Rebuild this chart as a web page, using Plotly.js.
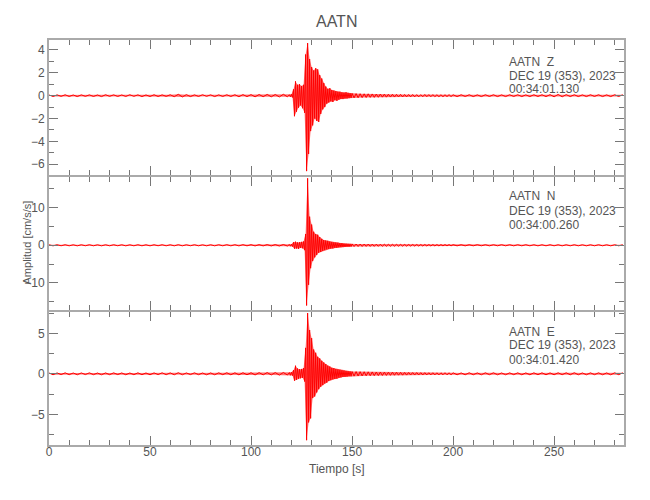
<!DOCTYPE html>
<html>
<head>
<meta charset="utf-8">
<script src="https://cdn.plot.ly/plotly-3.0.1.min.js"></script>
<style>html,body{margin:0;padding:0;background:#fff;}</style>
</head>
<body>
<div id="chart" style="width:650px;height:500px;"></div>
<script>
// Sample times (s): pre-event, event window, coda, tail
const tA = [0,2,4,6,8,10,12,14,16,18,20,22,24,26,28,30,32,34,36,38,40,42,44,46,48,50,52,54,56,58,
  60,62,64,66,68,70,72,74,76,78,80,82,84,86,88,90,92,94,96,98,100,102,104,106,108,110,112,114,116,118];
const tB = [119,119.5,120,120.5,121,121.5,122,122.5,123,123.5,124,124.5,125,125.5,126,126.5,127,127.5,128,128.5,
  129,129.5,130,130.5,131,131.5,132,132.5,133,133.5,134,134.5,135,135.5,136,136.5,137,137.5,138,138.5,
  139,139.5,140,140.5,141,141.5,142,142.5,143,143.5,144,144.5,145,145.5,146,146.5,147,147.5,148,148.5,
  149,149.5,150];
const tC = [151,152,153,154,155,156,157,158,159,160,161,162,163,164,165,166,167,168,169,170,
  171,172,173,174,175,176,177,178,179,180,181,182,183,184,185,186,187,188,189,190,
  191,192,193,194,195,196,197,198,199,200];
const tD = [202,204,206,208,210,212,214,216,218,220,222,224,226,228,230,232,234,236,238,240,
  242,244,246,248,250,252,254,256,258,260,262,264,266,268,270,272,274,276,278,280,282,284];

// Component Z (cm/s/s), alternating extremes
const zA = [0.06,-0.07,0.07,-0.06,0.08,-0.07,0.06,-0.08,0.07,-0.06,
  0.07,-0.07,0.06,-0.08,0.08,-0.06,0.07,-0.07,0.06,-0.07,
  0.08,-0.06,0.07,-0.08,0.06,-0.07,0.08,-0.07,0.07,-0.06,
  0.08,-0.09,0.12,-0.11,0.09,-0.08,0.07,-0.07,0.08,-0.06,
  0.07,-0.08,0.07,-0.07,0.08,-0.07,0.08,-0.09,0.09,-0.08,
  0.09,-0.1,0.1,-0.09,0.11,-0.1,0.1,-0.11,0.12,-0.1];
const zB = [0.08,-0.1,0.12,-0.15,0.55,-1.8,1.25,-1.4,0.95,-1.05,
  1.0,-0.85,0.85,-1.1,0.95,-1.5,3.6,-6.6,4.6,-5.1,
  3.2,-3.1,2.5,-2.6,2.2,-2.0,2.4,-2.2,2.3,-2.3,
  1.8,-1.6,1.5,-1.2,1.1,-1.0,0.8,-0.7,0.6,-0.6,
  0.65,-0.5,0.5,-0.55,0.45,-0.4,0.4,-0.45,0.35,-0.35,
  0.35,-0.3,0.3,-0.3,0.28,-0.25,0.3,-0.25,0.25,-0.22,
  0.22,-0.2,0.2];
const zC = [-0.19,0.18,-0.18,0.17,-0.17,0.16,-0.16,0.16,-0.15,0.15,
  -0.15,0.14,-0.14,0.14,-0.13,0.13,-0.13,0.12,-0.12,0.12,
  -0.12,0.11,-0.11,0.11,-0.11,0.1,-0.1,0.1,-0.1,0.1,
  -0.1,0.09,-0.1,0.09,-0.09,0.1,-0.09,0.09,-0.09,0.09,
  -0.09,0.08,-0.09,0.08,-0.09,0.08,-0.08,0.09,-0.08,0.08];
const zD = [-0.08,0.08,-0.07,0.08,-0.08,0.07,-0.08,0.08,-0.07,0.08,
  -0.08,0.07,-0.08,0.08,-0.07,0.08,-0.08,0.07,-0.08,0.08,
  -0.07,0.08,-0.08,0.09,-0.1,0.11,-0.1,0.09,-0.08,0.08,
  -0.08,0.07,-0.08,0.08,-0.07,0.08,-0.08,0.07,-0.08,0.08,
  -0.07,0.08];

// Component N
const nA = [0.13,-0.15,0.14,-0.13,0.15,-0.14,0.13,-0.15,0.14,-0.13,
  0.15,-0.14,0.13,-0.15,0.14,-0.14,0.15,-0.13,0.14,-0.15,
  0.13,-0.14,0.15,-0.14,0.13,-0.15,0.14,-0.13,0.15,-0.14,
  0.14,-0.15,0.16,-0.15,0.14,-0.13,0.15,-0.14,0.13,-0.15,
  0.14,-0.15,0.15,-0.14,0.16,-0.15,0.15,-0.16,0.16,-0.15,
  0.16,-0.17,0.17,-0.16,0.18,-0.17,0.18,-0.19,0.2,-0.2];
const nB = [0.2,-0.25,0.3,-0.35,0.8,-0.9,0.95,-0.85,0.75,-0.95,
  0.8,-0.7,0.9,-0.8,1.0,-1.3,3.0,-16.0,17.8,-10.5,
  7.6,-6.1,5.5,-4.2,3.6,-3.2,3.0,-2.6,2.8,-2.0,
  2.2,-1.8,1.7,-1.5,1.4,-1.3,1.3,-1.1,1.2,-1.0,
  1.0,-0.9,0.9,-0.85,0.8,-0.7,0.75,-0.7,0.7,-0.6,
  0.6,-0.55,0.6,-0.5,0.5,-0.45,0.45,-0.4,0.4,-0.4,
  0.38,-0.35,0.35];
const nC = [-0.34,0.33,-0.33,0.32,-0.32,0.31,-0.3,0.3,-0.3,0.29,
  -0.29,0.28,-0.28,0.27,-0.27,0.26,-0.26,0.25,-0.25,0.25,
  -0.24,0.24,-0.23,0.23,-0.22,0.22,-0.22,0.21,-0.21,0.21,
  -0.2,0.2,-0.2,0.19,-0.19,0.19,-0.18,0.18,-0.18,0.18,
  -0.17,0.17,-0.17,0.17,-0.16,0.16,-0.16,0.16,-0.16,0.15];
const nD = [-0.15,0.14,-0.15,0.14,-0.14,0.15,-0.14,0.14,-0.15,0.14,
  -0.14,0.15,-0.14,0.14,-0.15,0.14,-0.14,0.15,-0.14,0.14,
  -0.15,0.14,-0.14,0.15,-0.14,0.14,-0.15,0.14,-0.14,0.15,
  -0.14,0.14,-0.15,0.14,-0.14,0.15,-0.14,0.14,-0.15,0.14,
  -0.14,0.15];

// Component E
const eA = [0.1,-0.12,0.11,-0.1,0.12,-0.11,0.1,-0.12,0.11,-0.1,
  0.12,-0.11,0.1,-0.12,0.11,-0.11,0.12,-0.1,0.11,-0.12,
  0.1,-0.11,0.12,-0.11,0.1,-0.12,0.11,-0.1,0.12,-0.11,
  0.11,-0.12,0.13,-0.12,0.11,-0.1,0.12,-0.11,0.1,-0.12,
  0.11,-0.12,0.12,-0.11,0.13,-0.12,0.12,-0.13,0.13,-0.12,
  0.13,-0.14,0.14,-0.13,0.15,-0.14,0.15,-0.16,0.16,-0.15];
const eB = [0.15,-0.18,0.2,-0.22,0.45,-0.85,1.0,-0.75,0.65,-0.6,
  0.55,-0.55,0.6,-0.5,0.7,-0.95,3.2,-8.2,7.5,-6.0,
  5.4,-5.5,4.4,-3.0,3.0,-2.8,2.6,-2.3,2.1,-1.9,
  1.9,-1.6,1.6,-1.4,1.4,-1.2,1.2,-1.1,1.0,-0.9,
  0.9,-0.8,0.75,-0.7,0.7,-0.65,0.6,-0.6,0.55,-0.5,
  0.5,-0.45,0.45,-0.4,0.4,-0.38,0.35,-0.35,0.33,-0.3,
  0.3,-0.3,0.28];
const eC = [-0.28,0.27,-0.27,0.26,-0.26,0.25,-0.25,0.24,-0.24,0.23,
  -0.23,0.22,-0.22,0.21,-0.21,0.2,-0.2,0.19,-0.19,0.19,
  -0.18,0.18,-0.17,0.17,-0.17,0.16,-0.16,0.16,-0.15,0.15,
  -0.15,0.15,-0.14,0.14,-0.14,0.14,-0.13,0.13,-0.13,0.13,
  -0.13,0.12,-0.13,0.12,-0.12,0.13,-0.12,0.12,-0.12,0.12];
const eD = [-0.12,0.11,-0.12,0.13,-0.12,0.11,-0.12,0.12,-0.11,0.12,
  -0.12,0.11,-0.12,0.12,-0.11,0.12,-0.12,0.11,-0.12,0.12,
  -0.11,0.12,-0.12,0.11,-0.12,0.12,-0.11,0.12,-0.12,0.13,
  -0.12,0.11,-0.12,0.12,-0.11,0.12,-0.12,0.11,-0.12,0.12,
  -0.11,0.12];

const station = 'AATN';
const components = ['Z', 'N', 'E'];
const dateLabel = 'DEC 19 (353), 2023';
const startTimes = ['00:34:01.130', '00:34:00.260', '00:34:01.420'];

const t = tA.concat(tB, tC, tD);
const series = [zA.concat(zB, zC, zD), nA.concat(nB, nC, nD), eA.concat(eB, eC, eD)];

const FONT = '"Liberation Sans", Arial, sans-serif';
const TXT = '#555555';

const traces = [];
series.forEach((y, i) => {
  const xa = i === 0 ? 'x' : 'x' + (i + 1);
  const ya = i === 0 ? 'y' : 'y' + (i + 1);
  // envelope of the recorded extremes: negative peaks (lower) and positive peaks (upper)
  const lowX = [], lowY = [], upX = [], upY = [];
  y.forEach((v, k) => {
    if (v < 0) { lowX.push(t[k]); lowY.push(v); } else { upX.push(t[k]); upY.push(v); }
  });
  traces.push({type: 'scatter', mode: 'lines', x: lowX, y: lowY, xaxis: xa, yaxis: ya,
    line: {width: 0, color: 'rgba(255,0,0,0)'}, hoverinfo: 'skip'});
  traces.push({type: 'scatter', mode: 'lines', x: upX, y: upY, xaxis: xa, yaxis: ya,
    line: {width: 0, color: 'rgba(255,0,0,0)'}, fill: 'tonexty',
    fillcolor: 'rgba(255,0,0,0.55)', hoverinfo: 'skip'});
  traces.push({type: 'scatter', mode: 'lines', x: t, y: y, xaxis: xa, yaxis: ya,
    line: {color: '#ff0000', width: 1, simplify: false}, hoverinfo: 'skip'});
});

function axisBase() {
  return {
    showline: true, linecolor: '#aaaaaa', linewidth: 2, mirror: 'ticks',
    ticks: 'inside', ticklen: 9, tickwidth: 1, tickcolor: '#777777',
    showgrid: false, zeroline: false,
    tickfont: {family: FONT, size: 12, color: TXT},
    minor: {ticks: 'inside', ticklen: 5, tickwidth: 1, tickcolor: '#777777', showgrid: false}
  };
}
function xAx(anchor, labels) {
  const a = axisBase();
  a.anchor = anchor; a.range = [0, 284.6]; a.tick0 = 0; a.dtick = 50;
  a.minor.dtick = 10; a.showticklabels = labels;
  if (labels) a.ticklabelstandoff = -5;
  return a;
}
function yAx(domain, range, dtick, mdtick) {
  const a = axisBase();
  a.domain = domain; a.range = range; a.tick0 = 0; a.dtick = dtick; a.minor.dtick = mdtick;
  return a;
}

const layout = {
  width: 650, height: 500,
  margin: {l: 49, r: 26, t: 40, b: 55},
  paper_bgcolor: '#ffffff', plot_bgcolor: '#ffffff',
  showlegend: false,
  title: {text: station, x: 0.518, xanchor: 'center', y: 0.958, yanchor: 'middle',
          font: {family: FONT, size: 16, color: TXT}},
  xaxis: xAx('y', false),
  xaxis2: Object.assign(xAx('y2', false), {matches: 'x'}),
  xaxis3: Object.assign(xAx('y3', true), {matches: 'x'}),
  yaxis: yAx([0.66667, 1], [-6.94, 4.87], 2, 1),
  yaxis2: yAx([0.33333, 0.66173], [-17.2, 18.14], 10, 5),
  yaxis3: yAx([0, 0.32840], [-8.79, 7.63], 5, 2.5),
  annotations: []
};

const NB = '\u00A0\u00A0';
const lineY = [[0.9469, 0.9123, 0.8778], [0.6136, 0.5790, 0.5444], [0.2802, 0.2457, 0.2111]];
components.forEach((c, i) => {
  const lines = [station + NB + c, dateLabel, startTimes[i]];
  lines.forEach((txt, j) => {
    layout.annotations.push({
      xref: 'paper', yref: 'paper', x: 0.7959, y: lineY[i][j],
      xanchor: 'left', yanchor: 'middle', showarrow: false, text: txt,
      font: {family: FONT, size: 12, color: TXT}
    });
  });
});
layout.annotations.push({
  xref: 'paper', yref: 'paper', x: -0.0383, y: 0.5, xanchor: 'center', yanchor: 'middle',
  textangle: -90, showarrow: false, text: 'Amplitud [cm/s/s]',
  font: {family: FONT, size: 11, color: TXT}
});
layout.annotations.push({
  xref: 'paper', yref: 'paper', x: 0.5, y: -0.0593, xanchor: 'center', yanchor: 'middle',
  showarrow: false, text: 'Tiempo [s]',
  font: {family: FONT, size: 12, color: TXT}
});

Plotly.newPlot('chart', traces, layout, {staticPlot: true, displayModeBar: false});
</script>
</body>
</html>
